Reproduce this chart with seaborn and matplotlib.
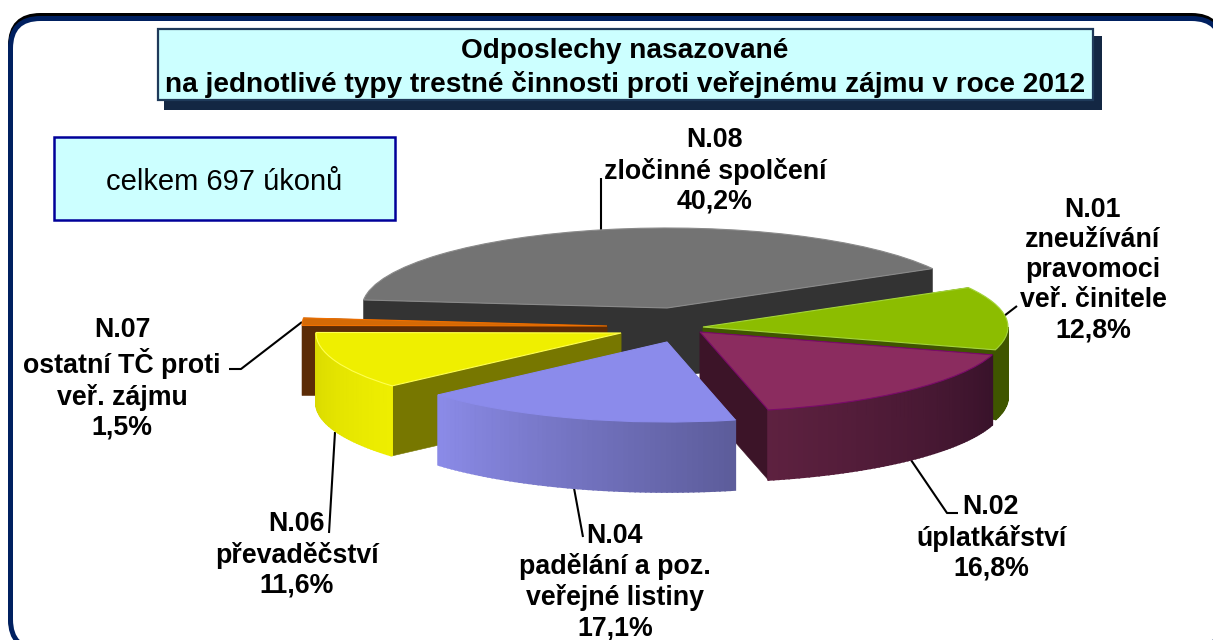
import matplotlib
matplotlib.use("Agg")
import matplotlib.pyplot as plt
import numpy as np
import seaborn as sns
from matplotlib.patches import FancyBboxPatch, Rectangle

# Data, clockwise from the right edge of the grey slice
codes = ["N.01", "N.02", "N.04", "N.06", "N.07", "N.08"]
names = ["zneužívání\npravomoci\nveř. činitele", "úplatkářství", "padělání a poz.\nveřejné listiny",
         "převaděčství", "ostatní TČ proti\nveř. zájmu", "zločinné spolčení"]
shares = [12.8, 16.8, 17.1, 11.6, 1.5, 40.2]

title_text = "Odposlechy nasazované\nna jednotlivé typy trestné činnosti proti veřejnému zájmu v roce 2012"
total_text = "celkem 697 úkonů"

# Styling of the slices
top_colors = ["#8CBD00", "#8B2C5F", "#8B8BEB", "#EFEF00", "#D46A06", "#737373"]
edge_colors = ["#A4D43C", "#7A0A6A", "#8B8BEB", "#FFFF50", "#F07000", "#8A8A8A"]
side_colors = ["#3F5500", "#3C1428", "#5C5C9A", "#777700", "#5C2C06", "#333333"]
wall_left = ["#3F5500", "#5E2140", "#8B8BE8", "#D8D800", "#5C2C06", "#333333"]
wall_right = ["#3F5500", "#38122A", "#5C5C9A", "#EFEF00", "#5C2C06", "#333333"]
draw_order = [5, 4, 3, 0, 1, 2]

# Pie geometry in pixels
W, H = 1213, 640
CX, CY = 667, 308
RX, RY = 305, 80
DEPTH = 70
START_ANGLE = 29.5
explode_x = [36, 33, 0, -46, -60, 0]
explode_y = [19, 24, 34, 25, 18, 0]

# Label centres and leader lines in pixels
label_x = [1093, 991, 615, 297, 122, 715]
label_y = [270, 538, 582, 555, 379, 171]
leader_x = [[1004, 1017], [911, 947, 958], [574, 583], [335, 329], [302, 241, 229], [601, 601]]
leader_y = [[316, 306], [460, 513, 513], [488, 537], [432, 533], [322, 369, 369], [230, 178]]

sns.set_theme(style="white")
plt.rcParams["font.family"] = ["Liberation Sans", "DejaVu Sans"]

fig = plt.figure(figsize=(W / 100, H / 100), dpi=100, facecolor="white")

# Background layer in pixel coordinates: frame, boxes, texts
bg = fig.add_axes([0, 0, 1, 1])
bg.set_xlim(0, W)
bg.set_ylim(H, 0)
bg.axis("off")

for dy, col in [(-3, "black"), (0, "#002060")]:
    bg.add_patch(FancyBboxPatch((40.5, 48.5 + dy), 1151, 571, boxstyle="round,pad=30,rounding_size=30",
                                facecolor="white", edgecolor=col, linewidth=3.6, zorder=1 + (dy == 0)))

bg.add_patch(Rectangle((164, 36), 938, 74, facecolor="#132743", edgecolor="none", zorder=3))
bg.add_patch(Rectangle((157.5, 28.5), 935, 71, facecolor="#CCFFFF", edgecolor="#1F3A5A", linewidth=1.6, zorder=4))
bg.text(625, 68, title_text, ha="center", va="center", fontsize=20.2, fontweight="bold",
        color="black", linespacing=1.32, zorder=5)

bg.add_patch(Rectangle((53.5, 136.5), 341, 83, facecolor="#CCFFFF", edgecolor="#000099", linewidth=1.8, zorder=3))
bg.text(224, 182, total_text, ha="center", va="center", fontsize=21, color="black", zorder=5)

for i, code in enumerate(codes):
    pct = f"{shares[i]:.1f}".replace(".", ",") + "%"
    bg.text(label_x[i], label_y[i], f"{code}\n{names[i]}\n{pct}", ha="center", va="center", fontsize=19.3,
            fontweight="bold", color="black", linespacing=1.2, zorder=5)
    bg.plot(leader_x[i], leader_y[i], color="black", linewidth=1.5, zorder=5, solid_capstyle="butt")

# Pie layer: one unit of data is one radius, so the squashed pie keeps its proportions
ax = fig.add_axes([0, 0, 1, 1])
wedges, _ = ax.pie(shares, startangle=START_ANGLE, counterclock=False, colors=top_colors, radius=1,
                   wedgeprops={"linewidth": 0.8})
ax.set_aspect("auto")
ax.set_xlim(-CX / RX, (W - CX) / RX)
ax.set_ylim((CY - H) / RY, CY / RY)
ax.patch.set_visible(False)
ax.axis("off")

drop = DEPTH / RY
for rank, i in enumerate(draw_order):
    wedge = wedges[i]
    z = 10 + rank * 3
    cx = explode_x[i] / RX
    cy = -explode_y[i] / RY
    t1, t2 = wedge.theta1, wedge.theta2

    # Two straight sides of the slice
    for t in (t1, t2):
        x = cx + np.cos(np.radians(t))
        y = cy + np.sin(np.radians(t))
        ax.fill([cx, x, x, cx], [cy, y, y - drop, cy - drop], color=side_colors[i],
                linewidth=0.4, zorder=z)

    # Rounded outer wall, only the part that faces the viewer, shaded from left to right
    angles = np.arange(np.floor(t1), np.ceil(t2) + 1)
    angles = np.clip(angles, t1, t2)
    angles = angles[np.sin(np.radians(angles)) <= 0.0001]
    if len(angles) > 1:
        shades = sns.blend_palette([wall_left[i], wall_right[i]], len(angles))
        order = np.argsort(np.cos(np.radians(angles)))
        for k in range(len(angles) - 1):
            a = np.radians(angles[k:k + 2])
            xs = cx + np.cos(a)
            ys = cy + np.sin(a)
            ax.fill(np.r_[xs, xs[::-1]], np.r_[ys, ys[::-1] - drop],
                    color=shades[int(np.where(order == k)[0][0])], linewidth=1.2, zorder=z + 1)

    wedge.set_center((cx, cy))
    wedge.set_edgecolor(edge_colors[i])
    wedge.set_zorder(z + 2)

fig.savefig("out.png", dpi=100)
